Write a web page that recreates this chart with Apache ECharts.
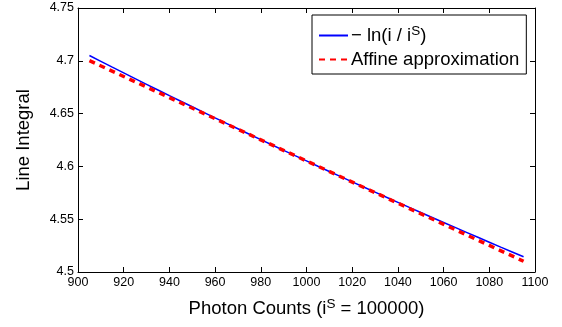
<!DOCTYPE html>
<html><head><meta charset="utf-8">
<script src="https://cdn.jsdelivr.net/npm/echarts@6/dist/echarts.min.js"></script>
<style>html,body{margin:0;padding:0;background:#fff}#c{width:562px;height:327px}</style>
</head><body><div id="c"></div>
<script>
const xTicks = [900, 920, 940, 960, 980, 1000, 1020, 1040, 1060, 1080, 1100];
const yTicks = [4.5, 4.55, 4.6, 4.65, 4.7, 4.75];
const counts = [905,910,915,920,925,930,935,940,945,950,955,960,965,970,975,980,985,990,995,1000,
  1005,1010,1015,1020,1025,1030,1035,1040,1045,1050,1055,1060,1065,1070,1075,1080,1085,1090,1095];
const lnValues = [4.70499,4.69948,4.69400,4.68855,4.68313,4.67774,4.67238,4.66705,4.66174,4.65646,
  4.65121,4.64599,4.64080,4.63563,4.63049,4.62537,4.62028,4.61522,4.61018,4.60517,
  4.60018,4.59522,4.59028,4.58537,4.58048,4.57561,4.57077,4.56595,4.56115,4.55638,
  4.55163,4.54690,4.54220,4.53751,4.53285,4.52821,4.52359,4.51899,4.51442];
const affineCounts = [905, 1000, 1095];
const affineValues = [4.70017, 4.60517, 4.51017];
const seriesNames = ['ln', 'Affine approximation'];

const font = 'Liberation Sans, Arial, Helvetica, sans-serif';
const chart = echarts.init(document.getElementById('c'), null, {renderer: 'canvas'});
const baseAxis = {
  axisLine: {show: true, onZero: false, lineStyle: {color: '#000', width: 1}},
  axisTick: {show: true, inside: true, length: 5, lineStyle: {color: '#000'}},
  splitLine: {show: false}
};
chart.setOption({
  animation: false,
  backgroundColor: '#fff',
  grid: {left: 78, right: 27, top: 8, bottom: 55, containLabel: false},
  xAxis: [
    Object.assign({}, baseAxis, {type: 'value', position: 'bottom', min: xTicks[0], max: xTicks[xTicks.length-1], interval: 20,
      axisLabel: {color: '#000', fontSize: 12.5, fontFamily: font, margin: 4, formatter: v => String(v)},
      name: 'Photon Counts (i{sup|S} = 100000)', nameLocation: 'middle', nameGap: 25,
      nameTextStyle: {color: '#000', fontSize: 18.5, fontFamily: font,
        rich: {sup: {fontSize: 13.5, fontFamily: font, color: '#000', verticalAlign: 'top', padding: [0,0,10,0]}}}}),
    Object.assign({}, baseAxis, {type: 'value', position: 'top', min: xTicks[0], max: xTicks[xTicks.length-1], interval: 20,
      axisLabel: {show: false}})
  ],
  yAxis: [
    Object.assign({}, baseAxis, {type: 'value', position: 'left', min: yTicks[0], max: yTicks[yTicks.length-1], interval: 0.05,
      axisLabel: {color: '#000', fontSize: 12.5, fontFamily: font, margin: 4, formatter: v => String(+v.toFixed(2))},
      name: 'Line Integral', nameLocation: 'middle', nameGap: 45, nameRotate: 90,
      nameTextStyle: {color: '#000', fontSize: 18.5, fontFamily: font}}),
    Object.assign({}, baseAxis, {type: 'value', position: 'right', min: yTicks[0], max: yTicks[yTicks.length-1], interval: 0.05,
      axisLabel: {show: false}})
  ],
  legend: {
    left: 312, top: 15, orient: 'vertical',
    backgroundColor: '#fff', borderColor: '#000', borderWidth: 1,
    padding: [9, 7, 5, 6], itemGap: 5, itemWidth: 29, itemHeight: 20,
    itemStyle: {opacity: 0},
    data: seriesNames.map(n => ({name: n})),
    formatter: n => n === 'ln' ? '{t|− ln(i / i}{s|S}{t|)}' : '{t|' + n + '}',
    textStyle: {color: '#000', fontSize: 18.5, fontFamily: font, padding: [0,0,0,-2],
      rich: {t: {fontSize: 18.5, fontFamily: font, color: '#000'},
             s: {fontSize: 13.5, fontFamily: font, color: '#000', verticalAlign: 'top', padding: [0,0,9,0]}}}
  },
  series: [
    {name: seriesNames[0], type: 'line', showSymbol: false, symbol: 'none',
      data: counts.map((c, i) => [c, lnValues[i]]),
      lineStyle: {color: '#0000ff', width: 1.5}, itemStyle: {color: '#0000ff'}},
    {name: seriesNames[1], type: 'line', showSymbol: false, symbol: 'none',
      data: affineCounts.map((c, i) => [c, affineValues[i]]),
      lineStyle: {color: '#ff0000', width: 3.5, type: [6, 5]}, itemStyle: {color: '#ff0000'}}
  ]
});
</script></body></html>
